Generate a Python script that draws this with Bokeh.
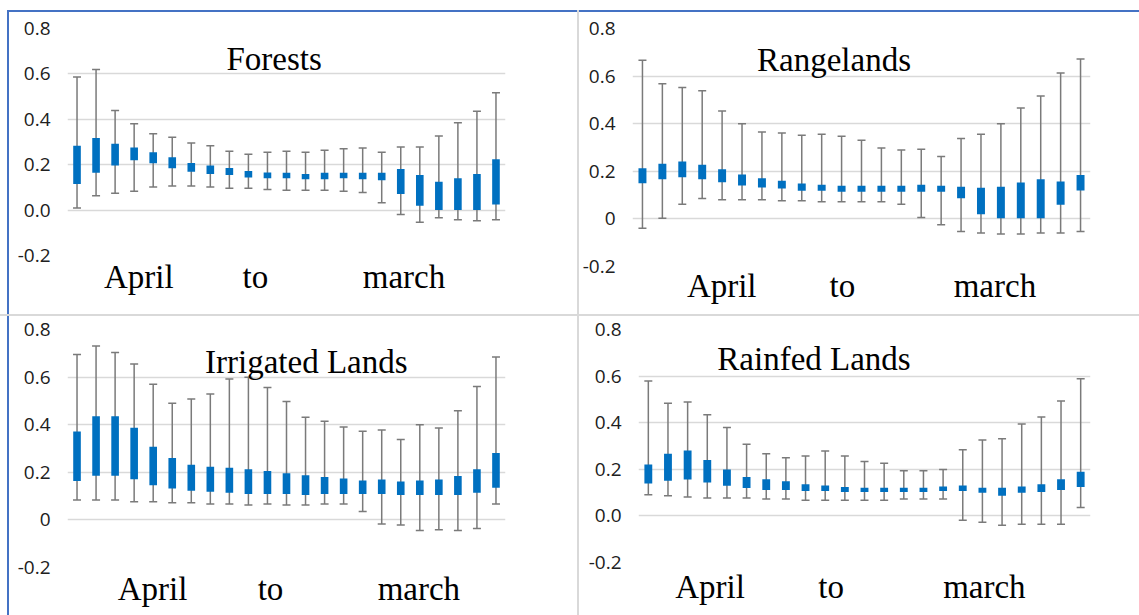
from bokeh.plotting import figure
from bokeh.models import ColumnDataSource, Whisker, TeeHead, FixedTicker, Label, Range1d
from bokeh.layouts import column, row
from bokeh.embed import file_html
from bokeh.resources import INLINE

# 23 sixteen-day periods, April to March
periods = list(range(1, 24))

month_labels = ["April", "to", "march"]
y_ticks = [-0.2, 0.0, 0.2, 0.4, 0.6, 0.8]

# ---------------- Forests ----------------
forests_box_top = [0.284, 0.318, 0.292, 0.276, 0.255, 0.233, 0.208, 0.196, 0.186, 0.172, 0.166, 0.164,
                   0.159, 0.164, 0.164, 0.164, 0.164, 0.181, 0.155, 0.125, 0.140, 0.159, 0.224]
forests_box_bottom = [0.115, 0.164, 0.197, 0.220, 0.206, 0.184, 0.169, 0.159, 0.155, 0.144, 0.140, 0.140,
                      0.136, 0.136, 0.140, 0.136, 0.131, 0.071, 0.019, 0.000, 0.000, 0.000, 0.025]
forests_whisker_top = [0.586, 0.619, 0.439, 0.380, 0.336, 0.321, 0.296, 0.283, 0.259, 0.246, 0.255, 0.259,
                       0.255, 0.264, 0.270, 0.274, 0.255, 0.278, 0.278, 0.326, 0.385, 0.435, 0.517]
forests_whisker_bottom = [0.009, 0.063, 0.074, 0.083, 0.102, 0.106, 0.106, 0.102, 0.096, 0.096, 0.091, 0.087,
                          0.087, 0.087, 0.083, 0.078, 0.032, -0.019, -0.053, -0.034, -0.043, -0.047, -0.043]
forests_ylabels = ["-0.2", "0.0", "0.2", "0.4", "0.6", "0.8"]

# ---------------- Rangelands ----------------
range_box_top = [0.213, 0.232, 0.241, 0.227, 0.209, 0.187, 0.171, 0.160, 0.149, 0.143, 0.139, 0.139,
                 0.139, 0.139, 0.143, 0.139, 0.135, 0.131, 0.135, 0.153, 0.167, 0.157, 0.184]
range_box_bottom = [0.150, 0.167, 0.175, 0.167, 0.154, 0.140, 0.132, 0.128, 0.118, 0.118, 0.114, 0.114,
                    0.114, 0.114, 0.114, 0.114, 0.087, 0.020, 0.003, 0.003, 0.003, 0.059, 0.119]
range_whisker_top = [0.667, 0.568, 0.552, 0.538, 0.453, 0.400, 0.365, 0.361, 0.351, 0.356, 0.347, 0.330,
                     0.298, 0.289, 0.293, 0.262, 0.338, 0.356, 0.400, 0.466, 0.516, 0.613, 0.672]
range_whisker_bottom = [-0.039, 0.003, 0.062, 0.086, 0.080, 0.080, 0.080, 0.076, 0.076, 0.072, 0.072, 0.072,
                        0.072, 0.062, 0.006, -0.025, -0.053, -0.059, -0.063, -0.063, -0.059, -0.059, -0.053]
range_ylabels = ["-0.2", "0", "0.2", "0.4", "0.6", "0.8"]

# ---------------- Irrigated Lands ----------------
irr_box_top = [0.371, 0.436, 0.436, 0.387, 0.307, 0.260, 0.232, 0.223, 0.219, 0.213, 0.205, 0.196,
               0.188, 0.180, 0.174, 0.166, 0.170, 0.161, 0.166, 0.170, 0.184, 0.213, 0.281]
irr_box_bottom = [0.163, 0.185, 0.185, 0.171, 0.146, 0.132, 0.122, 0.118, 0.114, 0.109, 0.109, 0.109,
                  0.105, 0.109, 0.109, 0.109, 0.109, 0.105, 0.105, 0.105, 0.105, 0.114, 0.135]
irr_whisker_top = [0.695, 0.731, 0.703, 0.655, 0.570, 0.490, 0.508, 0.529, 0.592, 0.599, 0.556, 0.498,
                   0.431, 0.414, 0.390, 0.373, 0.378, 0.338, 0.400, 0.386, 0.459, 0.560, 0.684]
irr_whisker_bottom = [0.084, 0.084, 0.084, 0.076, 0.076, 0.072, 0.072, 0.067, 0.067, 0.063, 0.067, 0.063,
                      0.063, 0.067, 0.067, 0.035, -0.017, -0.021, -0.045, -0.041, -0.045, -0.036, 0.067]
irr_ylabels = ["-0.2", "0", "0.2", "0.4", "0.6", "0.8"]

# ---------------- Rainfed Lands ----------------
rain_box_top = [0.221, 0.267, 0.281, 0.240, 0.199, 0.167, 0.157, 0.149, 0.136, 0.130, 0.124, 0.121,
                0.121, 0.121, 0.121, 0.126, 0.130, 0.121, 0.121, 0.126, 0.136, 0.157, 0.190]
rain_box_bottom = [0.139, 0.151, 0.156, 0.143, 0.129, 0.120, 0.111, 0.111, 0.107, 0.107, 0.103, 0.103,
                   0.103, 0.103, 0.103, 0.107, 0.107, 0.099, 0.086, 0.099, 0.103, 0.111, 0.124]
rain_whisker_top = [0.579, 0.484, 0.489, 0.434, 0.379, 0.307, 0.267, 0.250, 0.257, 0.279, 0.257, 0.234,
                    0.226, 0.194, 0.194, 0.199, 0.284, 0.326, 0.331, 0.394, 0.424, 0.493, 0.589]
rain_whisker_bottom = [0.091, 0.086, 0.081, 0.077, 0.077, 0.077, 0.073, 0.073, 0.067, 0.067, 0.067, 0.067,
                       0.067, 0.073, 0.073, 0.073, -0.019, -0.027, -0.040, -0.036, -0.036, -0.036, 0.036]
rain_ylabels = ["-0.2", "0.0", "0.2", "0.4", "0.6", "0.8"]

BOX_COLOR = "#0070C0"
WHISKER_COLOR = "#7A7A7A"
GRID_COLOR = "#D9D9D9"
TEXT_COLOR = "#202020"
SERIF = "Liberation Serif"
SANS = "Open Sans"


def panel(title, box_top, box_bottom, w_top, w_bottom, ylabels,
          month_ticks, title_pos, frame_w, frame_h, borders, xstandoff, shadow):
    left, right, top, bottom = borders
    p = figure(frame_width=frame_w, frame_height=frame_h,
               min_border_left=left, min_border_right=right,
               min_border_top=top, min_border_bottom=bottom,
               x_range=Range1d(0.5, 23.5), y_range=Range1d(-0.2, 0.8),
               output_backend="svg", toolbar_location=None, tools="",
               background_fill_color="white", border_fill_color=None,
               outline_line_color=None,
               styles={"box-shadow": shadow})
    src = ColumnDataSource(dict(x=periods, top=box_top, bottom=box_bottom,
                                upper=w_top, lower=w_bottom))
    wh = Whisker(source=src, base="x", upper="upper", lower="lower",
                 line_color=WHISKER_COLOR, line_width=1.5, level="underlay",
                 upper_head=TeeHead(size=8, line_color=WHISKER_COLOR, line_width=1.5),
                 lower_head=TeeHead(size=8, line_color=WHISKER_COLOR, line_width=1.5))
    p.add_layout(wh)
    p.vbar(x="x", top="top", bottom="bottom", width=0.4, source=src,
           fill_color=BOX_COLOR, line_color=None)

    p.xgrid.grid_line_color = None
    p.ygrid.grid_line_color = GRID_COLOR
    p.ygrid.grid_line_width = 1.5
    p.ygrid.ticker = FixedTicker(ticks=y_ticks)

    ya = p.yaxis[0]
    ya.ticker = FixedTicker(ticks=y_ticks)
    ya.major_label_overrides = {t: l for t, l in zip(y_ticks, ylabels)}
    ya.axis_line_color = None
    ya.major_tick_line_color = None
    ya.minor_tick_line_color = None
    ya.major_tick_out = 0
    ya.major_label_standoff = 17
    ya.major_label_text_font = SANS
    ya.major_label_text_font_size = "19px"
    ya.major_label_text_color = TEXT_COLOR

    xa = p.xaxis[0]
    xa.ticker = FixedTicker(ticks=month_ticks)
    xa.major_label_overrides = {t: l for t, l in zip(month_ticks, month_labels)}
    xa.axis_line_color = None
    xa.major_tick_line_color = None
    xa.minor_tick_line_color = None
    xa.major_tick_out = 0
    xa.major_label_standoff = xstandoff
    xa.major_label_text_font = SERIF
    xa.major_label_text_font_size = "33px"
    xa.major_label_text_color = "black"

    p.add_layout(Label(x=title_pos[0], y=title_pos[1], text=title,
                       text_align="center", text_baseline="alphabetic",
                       text_font=SERIF, text_font_size="33px", text_color="black"))
    return p


BLUE_LINE = "#4472C4"
SEP = "#D9D9D9"

f1 = panel("Forests", forests_box_top, forests_box_bottom, forests_whisker_top, forests_whisker_bottom,
           forests_ylabels, [4.24, 10.37, 18.17], (11.35, 0.667), 438, 227, (67, 72, 28, 59), 3,
           f"inset 0 10px 0 0 #ffffff, inset 7px 0 0 0 #ffffff, "
           f"inset 0 12px 0 0 {BLUE_LINE}, inset 9px 0 0 0 {BLUE_LINE}")
f2 = panel("Rangelands", range_box_top, range_box_bottom, range_whisker_top, range_whisker_bottom,
           range_ylabels, [4.98, 11.04, 18.7], (10.62, 0.666), 458, 238, (55, 49, 24, 52), 1,
           f"inset 0 10px 0 0 #ffffff, inset 2px 0 0 0 {SEP}, inset 0 12px 0 0 {BLUE_LINE}")
f3 = panel("Irrigated Lands", irr_box_top, irr_box_bottom, irr_whisker_top, irr_whisker_bottom,
           irr_ylabels, [4.97, 11.16, 18.95], (13.04, 0.663), 438, 238, (67, 72, 15, 48), 3,
           f"inset 0 2px 0 0 {SEP}, inset 7px 0 0 0 #ffffff, inset 9px 0 0 0 {BLUE_LINE}")
f4 = panel("Rainfed Lands", rain_box_top, rain_box_bottom, rain_whisker_top, rain_whisker_bottom,
           rain_ylabels, [4.14, 10.3, 18.1], (9.43, 0.674), 452, 233, (61, 49, 15, 53), 6,
           f"inset 2px 0 0 0 {SEP}, inset 0 2px 0 0 {SEP}")

layout = column(row(f1, f2), row(f3, f4))

open("out.html", "w").write(file_html(layout, INLINE))
